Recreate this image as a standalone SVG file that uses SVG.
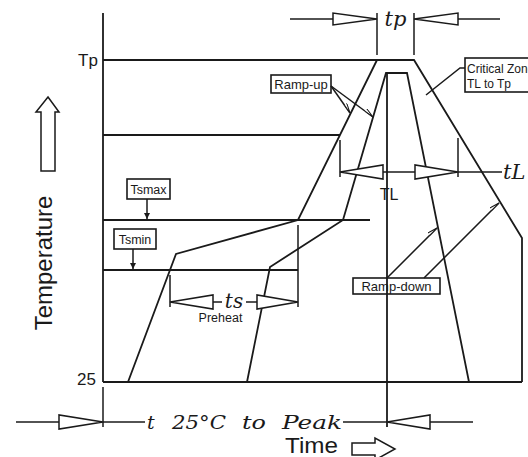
<svg xmlns="http://www.w3.org/2000/svg" width="528" height="457" viewBox="0 0 528 457">
<defs>
<style>
.ln{fill:none;stroke:#1a1a1a;stroke-width:1.8;stroke-linejoin:miter}
.th{fill:none;stroke:#1a1a1a;stroke-width:1.5}
.tri{fill:#fff;stroke:#1a1a1a;stroke-width:1.5}
.box{fill:#fff;stroke:#1a1a1a;stroke-width:1.6}
.lab{font-family:"Liberation Sans",Arial,sans-serif;fill:#1a1a1a}
.it{font-family:"DejaVu Serif","Liberation Serif",serif;font-style:italic;fill:#1a1a1a}
</style>
<marker id="ah" viewBox="0 0 10 6" refX="10" refY="3" markerWidth="10" markerHeight="6" markerUnits="userSpaceOnUse" orient="auto">
<path d="M0,0 L10,3 L0,3" fill="#fff" stroke="#1a1a1a" stroke-width="1"/>
</marker>
<marker id="ad" viewBox="0 0 6 6" refX="6" refY="3" markerWidth="6" markerHeight="6" markerUnits="userSpaceOnUse" orient="auto">
<path d="M0,0 L6,3 L0,6 z" fill="#1a1a1a"/>
</marker>
</defs>
<rect width="528" height="457" fill="#fff"/>

<g id="axes">
<line class="ln" x1="103" y1="13" x2="103" y2="382"/>
<line class="ln" x1="103" y1="382" x2="522" y2="382"/>
<line class="ln" x1="103" y1="60" x2="377" y2="60"/>
<line class="ln" x1="103" y1="135" x2="340" y2="135"/>
<line class="ln" x1="103" y1="220" x2="370" y2="220"/>
<line class="ln" x1="103" y1="270" x2="298" y2="270"/>
<text class="lab" x="78" y="66" font-size="17">Tp</text>
<text class="lab" x="77" y="385" font-size="17">25</text>
<text class="lab" font-size="24" text-anchor="middle" transform="translate(52,263) rotate(-90)">Temperature</text>
<path class="th" d="M48,97 L59,112 L55,112 L55,171 L41,171 L41,112 L36,112 Z"/>
<text class="lab" x="285" y="453" font-size="22" textLength="53" lengthAdjust="spacingAndGlyphs">Time</text>
<path class="th" d="M352,443 L375,443 L375,438 L395,449 L375,460 L375,455 L352,455 Z"/>
</g>

<g id="profiles">
<polyline class="ln" points="128,382 176,254 298,220 377,60 414,60 522,238 522,382"/>
<polyline class="ln" points="247,382 270,267 343,220 386,73 407,73 469,382"/>
</g>

<g id="node-tsmax">
<rect class="box" x="127" y="179" width="43" height="20"/>
<text class="lab" x="148.5" y="194" font-size="12.5" text-anchor="middle">Tsmax</text>
</g>
<g id="node-tsmin">
<rect class="box" x="114" y="229" width="42" height="20"/>
<text class="lab" x="135" y="244" font-size="12.5" text-anchor="middle">Tsmin</text>
</g>
<g id="node-rampup">
<rect class="box" x="271" y="75" width="60" height="18"/>
<text class="lab" x="301" y="89" font-size="13" text-anchor="middle">Ramp-up</text>
</g>
<g id="node-critical">
<rect class="box" x="465" y="58" width="80" height="34"/>
<text class="lab" x="467" y="73" font-size="12">Critical Zone</text>
<text class="lab" x="467" y="88" font-size="12">TL to Tp</text>
</g>
<g id="node-rampdown">
<rect class="box" x="353" y="278" width="87" height="16"/>
<text class="lab" x="396.5" y="291" font-size="13" text-anchor="middle">Ramp-down</text>
</g>

<g id="connectors">
<line class="th" x1="147" y1="199" x2="147" y2="219" marker-end="url(#ad)"/>
<line class="th" x1="133" y1="249" x2="133" y2="269" marker-end="url(#ad)"/>
<line class="th" x1="331" y1="86" x2="350" y2="113" marker-end="url(#ah)"/>
<line class="th" x1="331" y1="86" x2="373" y2="117" marker-end="url(#ah)"/>
<polyline class="th" points="465,68 460,68 426,95"/>
<line class="th" x1="387" y1="278" x2="437" y2="228" marker-end="url(#ah)"/>
<line class="th" x1="424" y1="278" x2="499" y2="203" marker-end="url(#ah)"/>
<line class="ln" x1="387" y1="73" x2="387" y2="427"/>
</g>

<g id="dim-tp">
<line class="th" x1="377" y1="13" x2="377" y2="55"/>
<line class="th" x1="414" y1="13" x2="414" y2="55"/>
<line class="th" x1="290" y1="19" x2="333" y2="19"/>
<polygon class="tri" points="333,13 333,25 377,19"/>
<polygon class="tri" points="414,19 458,13 458,25"/>
<line class="th" x1="458" y1="19" x2="500" y2="19"/>
<text class="it" x="395.5" y="26" font-size="21" text-anchor="middle">tp</text>
</g>

<g id="dim-tl">
<line class="th" x1="340" y1="140" x2="340" y2="177"/>
<line class="th" x1="458" y1="138" x2="458" y2="177"/>
<polygon class="tri" points="340,172 383,165 383,179"/>
<line class="th" x1="383" y1="172" x2="415" y2="172"/>
<polygon class="tri" points="415,165 415,179 458,172"/>
<line class="th" x1="458" y1="172" x2="502" y2="172"/>
<text class="it" x="503" y="179" font-size="21">tL</text>
<text class="lab" x="389" y="200" font-size="16" text-anchor="middle">TL</text>
</g>

<g id="dim-ts">
<line class="th" x1="170" y1="275" x2="170" y2="307"/>
<line class="th" x1="298" y1="225" x2="298" y2="307"/>
<polygon class="tri" points="170,302 213,295 213,309"/>
<line class="th" x1="213" y1="302" x2="222" y2="302"/>
<text class="it" x="234" y="308" font-size="20" text-anchor="middle">ts</text>
<line class="th" x1="246" y1="302" x2="257" y2="302"/>
<polygon class="tri" points="257,295 257,309 298,302"/>
<text class="lab" x="220.5" y="322" font-size="12.5" text-anchor="middle">Preheat</text>
</g>

<g id="dim-total">
<line class="th" x1="103" y1="387" x2="103" y2="427"/>
<line class="th" x1="16" y1="422" x2="59" y2="422"/>
<polygon class="tri" points="59,415 59,429 103,422"/>
<line class="th" x1="103" y1="422" x2="145" y2="422"/>
<text class="it" font-size="19" y="429"><tspan x="147">t</tspan><tspan x="172" textLength="54" lengthAdjust="spacingAndGlyphs">25°C</tspan><tspan x="242" textLength="24" lengthAdjust="spacingAndGlyphs">to</tspan><tspan x="282" textLength="60" lengthAdjust="spacingAndGlyphs">Peak</tspan></text>
<line class="th" x1="343" y1="422" x2="387" y2="422"/>
<polygon class="tri" points="387,422 430,415 430,429"/>
<line class="th" x1="430" y1="422" x2="473" y2="422"/>
</g>
</svg>
